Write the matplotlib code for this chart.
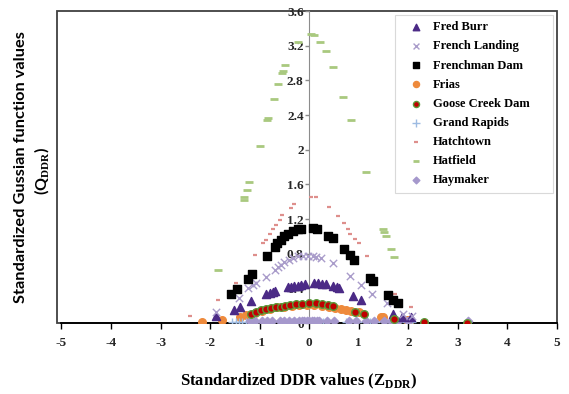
import numpy as np
import matplotlib.pyplot as plt
from matplotlib.patches import Rectangle

plt.rcParams['mathtext.fontset'] = 'custom'
plt.rcParams['mathtext.rm'] = 'Liberation Serif'
plt.rcParams['mathtext.bf'] = 'Liberation Serif:bold'
plt.rcParams['axes.unicode_minus'] = False

# standardized DDR (x) and Gaussian function values (y) for each site
fred_burr_x = [-1.89, -1.51, -1.39, -1.17, -0.87, -0.80, -0.73, -0.70, -0.43, -0.36, -0.30, -0.23,
               -0.16, -0.09, 0.09, 0.17, 0.26, 0.34, 0.48, 0.55, 0.61, 0.88, 1.05, 1.68, 1.88, 2.05]
fred_burr_y = [0.08, 0.15, 0.18, 0.25, 0.34, 0.35, 0.36, 0.37, 0.42, 0.42, 0.43, 0.43,
               0.44, 0.45, 0.46, 0.46, 0.45, 0.45, 0.43, 0.42, 0.40, 0.31, 0.27, 0.11, 0.07, 0.07]

french_landing_x = [-1.89, -1.42, -1.24, -1.14, -1.07, -0.88, -0.70, -0.63, -0.57, -0.50, -0.41, -0.33,
                    -0.23, -0.13, -0.03, 0.07, 0.14, 0.24, 0.48, 0.83, 1.05, 1.27, 1.56, 1.90, 2.08]
french_landing_y = [0.13, 0.29, 0.40, 0.44, 0.46, 0.53, 0.61, 0.65, 0.67, 0.71, 0.73, 0.75,
                    0.77, 0.77, 0.77, 0.77, 0.76, 0.75, 0.69, 0.54, 0.44, 0.33, 0.23, 0.10, 0.08]

frenchman_x = [-1.57, -1.45, -1.24, -1.15, -0.86, -0.70, -0.65, -0.57, -0.50, -0.43, -0.33, -0.23,
               -0.16, 0.08, 0.16, 0.38, 0.48, 0.70, 0.83, 0.91, 1.23, 1.28, 1.58, 1.69, 1.79]
frenchman_y = [0.33, 0.39, 0.51, 0.57, 0.77, 0.88, 0.92, 0.96, 1.00, 1.03, 1.06, 1.08,
               1.09, 1.10, 1.09, 1.01, 0.98, 0.86, 0.79, 0.73, 0.52, 0.48, 0.32, 0.27, 0.23]

frias_x = [-2.17, -1.76, -1.39, -1.27, -1.10, -0.95, -0.80, -0.65, -0.50, -0.35, -0.20, -0.05,
           0.10, 0.25, 0.40, 0.51, 0.65, 0.75, 0.85, 1.00, 1.45, 1.49, 1.98, 2.03]
frias_y = [0.015, 0.04, 0.07, 0.09, 0.12, 0.14, 0.16, 0.18, 0.19, 0.20, 0.21, 0.21,
           0.21, 0.20, 0.19, 0.17, 0.16, 0.15, 0.14, 0.13, 0.07, 0.065, 0.035, 0.03]

goose_x = [-1.18, -1.08, -0.98, -0.88, -0.78, -0.68, -0.58, -0.48, -0.38, -0.26, -0.14, 0.00,
           0.14, 0.25, 0.38, 0.48, 0.93, 1.10, 1.72, 2.31, 3.19]
goose_y = [0.11, 0.13, 0.15, 0.16, 0.17, 0.18, 0.19, 0.20, 0.21, 0.22, 0.22, 0.23,
           0.23, 0.22, 0.21, 0.20, 0.13, 0.11, 0.045, 0.012, 0.006]

grand_rapids_x = [-1.55, -1.48, -1.42, -1.36, -1.28, -0.35, -0.25, 0.05, 0.12, 0.18, 0.28,
                  0.75, 0.98, 1.22, 1.35, 1.60, 1.72, 1.95, 2.08]
grand_rapids_y = [0.01] * len(grand_rapids_x)

hatchtown_x = [-2.40, -1.85, -1.47, -1.10, -0.94, -0.87, -0.80, -0.73, -0.67, -0.60, -0.55, -0.36,
               -0.31, 0.03, 0.14, 0.40, 0.59, 0.70, 0.78, 0.83, 0.92, 1.00, 1.17, 1.74, 2.05]
hatchtown_y = [0.08, 0.27, 0.46, 0.78, 0.92, 0.96, 1.03, 1.08, 1.13, 1.19, 1.25, 1.33,
               1.37, 1.45, 1.45, 1.34, 1.23, 1.16, 1.09, 1.03, 0.97, 0.92, 0.77, 0.34, 0.19]

hatfield_x = [-1.85, -1.31, -1.31, -1.26, -1.21, -1.00, -0.85, -0.83, -0.71, -0.63, -0.55, -0.53,
              -0.48, -0.23, 0.03, 0.09, 0.21, 0.34, 0.48, 0.69, 0.85, 1.14, 1.49, 1.51, 1.54,
              1.64, 1.72]
hatfield_y = [0.61, 1.42, 1.46, 1.53, 1.63, 2.04, 2.34, 2.37, 2.58, 2.76, 2.88, 2.91,
              2.98, 3.24, 3.33, 3.32, 3.24, 3.14, 2.96, 2.61, 2.34, 1.74, 1.09, 1.05, 1.01,
              0.85, 0.76]

haymaker_x = [-1.20, -1.10, -0.95, -0.85, -0.75, -0.60, -0.50, -0.40, -0.30, -0.20, -0.15, -0.10,
              -0.05, 0.00, 0.05, 0.10, 0.15, 0.20, 0.35, 0.50, 0.80, 0.95, 1.15, 1.30, 1.50,
              1.65, 1.80, 2.00, 3.20]
haymaker_y = [0.02] * len(haymaker_x)

fig = plt.figure(figsize=(5.69, 3.94), dpi=100)
ax = fig.add_axes([0.108, 0.18, 0.871, 0.792])

ax.scatter(frias_x, frias_y, marker='o', s=30, color='#ee8a3c', zorder=3, label='Frias')
ax.scatter(fred_burr_x, fred_burr_y, marker='^', s=34, color='#4b2a86', zorder=4, label='Fred Burr')
ax.scatter(french_landing_x, french_landing_y, marker='x', s=28, color='#a99cca', linewidths=1.0,
           zorder=4, label='French Landing')
ax.scatter(frenchman_x, frenchman_y, marker='s', s=32, color='black', zorder=4, label='Frenchman Dam')
ax.scatter(goose_x, goose_y, marker='o', s=30, color='#c00000', edgecolors='#5a9a3a', linewidths=1.0,
           zorder=5, label='Goose Creek Dam')
ax.scatter(grand_rapids_x, grand_rapids_y, marker='+', s=40, color='#9dbbe2', linewidths=1.0,
           zorder=3, label='Grand Rapids')
ax.scatter(hatchtown_x, hatchtown_y, marker='_', s=10, color='#de8f8c', linewidths=1.6,
           zorder=3, label='Hatchtown')
ax.scatter(hatfield_x, hatfield_y, marker='_', s=32, color='#a9c97f', linewidths=2.0,
           zorder=3, label='Hatfield')
ax.scatter(haymaker_x, haymaker_y, marker='D', s=18, color='#a598cc', zorder=3, label='Haymaker')

ax.set_xlim(-5, 5)
ax.set_ylim(0, 3.6)
ax.set_xticks(np.arange(-5, 6, 1))
ax.set_yticks(np.arange(0, 3.61, 0.4))
ax.set_yticklabels(['0', '0.4', '0.8', '1.2', '1.6', '2', '2.4', '2.8', '3.2', '3.6'])

# y axis crosses at x = 0, the box is drawn separately
ax.spines['left'].set_position(('data', 0))
ax.spines['left'].set_color('#8c8c8c')
ax.spines['left'].set_zorder(1)
ax.spines['bottom'].set_color('black')
ax.spines['bottom'].set_linewidth(1.3)
ax.spines['top'].set_visible(False)
ax.spines['right'].set_visible(False)
ax.add_patch(Rectangle((-0.008, 0), 1.008, 1, transform=ax.transAxes, fill=False,
                       edgecolor='#404040', linewidth=1.3, clip_on=False, zorder=0))

ax.tick_params(axis='x', direction='out', length=4, width=1, pad=6)
ax.tick_params(axis='y', direction='out', length=3, width=1, colors='#8c8c8c', pad=1)
for lab in ax.get_xticklabels() + ax.get_yticklabels():
    lab.set_fontfamily('Liberation Serif')
    lab.set_fontweight('bold')
    lab.set_fontsize(9.5)
    lab.set_color('#262626')

ax.set_xlabel(r'Standardized DDR values (Z$_{\mathbf{DDR}}$)', family='Liberation Serif',
              fontweight='bold', fontsize=12, labelpad=16)
ax.xaxis.set_label_coords(0.478, -0.155)
fig.text(0.037, 0.575, 'Standardized Gussian function values', rotation=90, ha='center', va='center',
         family='Lato', fontweight='bold', fontsize=11.8)
fig.text(0.074, 0.565, r'(Q$_{\mathbf{DDR}}$)', rotation=90, ha='center', va='center',
         family='Lato', fontweight='bold', fontsize=11.5)

handles, labels = ax.get_legend_handles_labels()
order = ['Fred Burr', 'French Landing', 'Frenchman Dam', 'Frias', 'Goose Creek Dam',
         'Grand Rapids', 'Hatchtown', 'Hatfield', 'Haymaker']
hmap = dict(zip(labels, handles))
leg = ax.legend([hmap[k] for k in order], order, loc='upper left',
                bbox_to_anchor=(0.673, 0.0, 0.319, 0.987), mode='expand',
                borderaxespad=0, prop={'family': 'Liberation Serif', 'weight': 'bold', 'size': 9},
                frameon=True, fancybox=False, edgecolor='#d0d0d0', handletextpad=0.15,
                handlelength=2.4, labelspacing=0.57, borderpad=0.5, markerscale=0.8)
leg.get_frame().set_linewidth(0.8)

fig.savefig('out.png', dpi=100)
